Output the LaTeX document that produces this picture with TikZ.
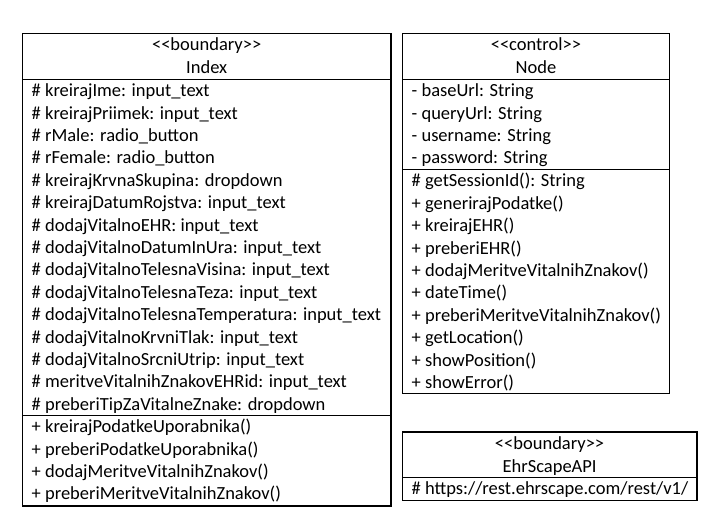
\documentclass[tikz,border=0pt]{standalone}
\usepackage{fontspec}
\setmainfont{Carlito}
\newcommand\dlt{<\kern0pt<}
\newcommand\dgt{>\kern0pt>}
\begin{document}
\begin{tikzpicture}[x=1pt,y=-1pt,
  box/.style={draw=black,line width=1.1pt},
  txt/.style={anchor=base west,inner sep=0pt,font=\fontsize{18.5}{21}\selectfont},
  hdr/.style={anchor=base,inner sep=0pt,font=\fontsize{18.5}{21}\selectfont}]
\useasboundingbox (0,0) rectangle (725,523);
% ---------------- Index ----------------
\draw[box] (22.5,33.5) rectangle (391,506);
\draw[box] (22.5,79.7) -- (391,79.7);
\draw[box] (22.5,415.8) -- (391,415.8);
\node[hdr] (idxst) at (206.7,50.6) {\dlt boundary\dgt};
\node[hdr] (idxname) at (206.7,73.0) {Index};
\foreach \t [count=\i from 0] in {
  \# kreirajIme: input\_text,
  \# kreirajPriimek: input\_text,
  \# rMale: radio\_button,
  \# rFemale: radio\_button,
  \# kreirajKrvnaSkupina: dropdown,
  \# kreirajDatumRojstva: input\_text,
  \# dodajVitalnoEHR: input\_text,
  \# dodajVitalnoDatumInUra: input\_text,
  \# dodajVitalnoTelesnaVisina: input\_text,
  \# dodajVitalnoTelesnaTeza: input\_text,
  \# dodajVitalnoTelesnaTemperatura: input\_text,
  \# dodajVitalnoKrvniTlak: input\_text,
  \# dodajVitalnoSrcniUtrip: input\_text,
  \# meritveVitalnihZnakovEHRid: input\_text,
  \# preberiTipZaVitalneZnake: dropdown}
  {\node[txt] (idxa\i) at (31.5,{96.7+22.4*\i}) {\t};}
\foreach \t [count=\i from 0] in {
  + kreirajPodatkeUporabnika(),
  + preberiPodatkeUporabnika(),
  + dodajMeritveVitalnihZnakov(),
  + preberiMeritveVitalnihZnakov()}
  {\node[txt] (idxm\i) at (31.5,{432.7+22.4*\i}) {\t};}
% ---------------- Node ----------------
\draw[box] (402.3,33.5) rectangle (669.5,393.6);
\draw[box] (402.3,79.7) -- (669.5,79.7);
\draw[box] (402.3,169.8) -- (669.5,169.8);
\node[hdr] (ndst) at (535.9,50.6) {\dlt control\dgt};
\node[hdr] (ndname) at (535.9,73.0) {Node};
\foreach \t [count=\i from 0] in {
  - baseUrl: String,
  - queryUrl: String,
  - username: String,
  - password: String}
  {\node[txt] (nda\i) at (411.5,{96.7+22.4*\i}) {\t};}
\foreach \t [count=\i from 0] in {
  \# getSessionId(): String,
  + generirajPodatke(),
  + kreirajEHR(),
  + preberiEHR(),
  + dodajMeritveVitalnihZnakov(),
  + dateTime(),
  + preberiMeritveVitalnihZnakov(),
  + getLocation(),
  + showPosition(),
  + showError()}
  {\node[txt] (ndm\i) at (411.5,{186.9+22.4*\i}) {\t};}
% ---------------- EhrScapeAPI ----------------
\draw[box] (402.3,432) rectangle (697,500.5);
\draw[box] (402.3,477.3) -- (697,477.3);
\node[hdr] (ehrst) at (549.6,449.6) {\dlt boundary\dgt};
\node[hdr] (ehrname) at (549.6,472.0) {EhrScapeAPI};
\node[txt] (ehra0) at (411.5,494.6) {\# https://rest.ehrscape.com/rest/v1/};
\end{tikzpicture}
\end{document}
